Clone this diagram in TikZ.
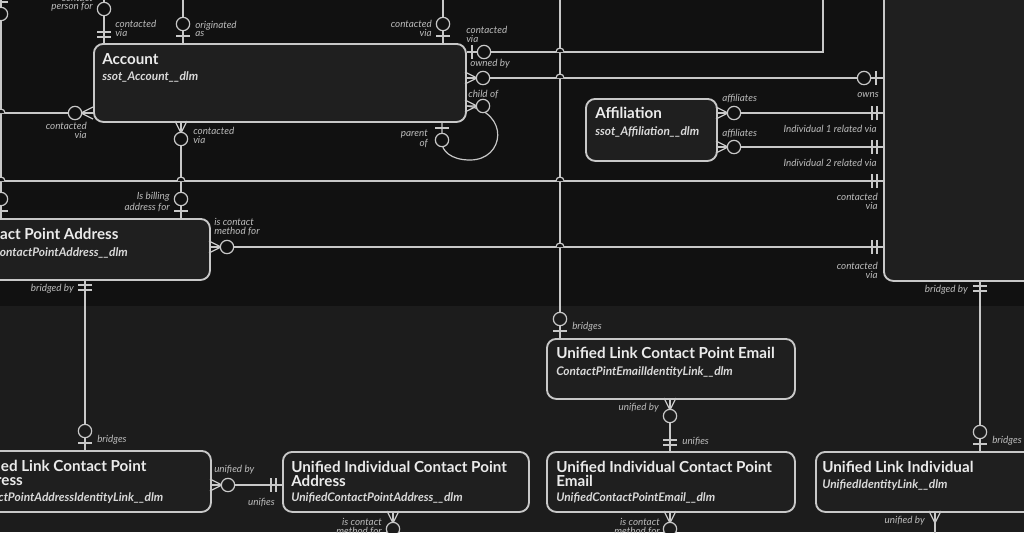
\documentclass[tikz,border=0pt]{standalone}
\usepackage{fontspec}
\setmainfont{Lato}
\definecolor{topbg}{HTML}{111111}
\definecolor{botbg}{HTML}{1C1C1C}
\definecolor{entbg}{HTML}{1F1F1F}
\definecolor{edge}{HTML}{C8C8C8}
\definecolor{lbl}{HTML}{BBBBBB}
\def\pfill{topbg}
\tikzset{
  ent/.style={draw=edge, line width=1.4pt, fill=entbg, rounded corners=7pt, anchor=north west, inner sep=0pt},
  ttl/.style={anchor=north west, text=white!92!black, font=\fontsize{11.4}{10.5}\selectfont\bfseries, align=left, inner sep=0pt},
  sub/.style={anchor=north west, text=white!85!black, font=\fontsize{8.9}{9}\selectfont\bfseries\itshape, inner sep=0pt},
  lab/.style={text=lbl, font=\fontsize{7.4}{6.6}\selectfont\itshape, inner sep=0pt, align=right},
  labl/.style={lab, align=left},
  rel/.style={draw=edge, line width=0.9pt},
  % crow's foot + circle (zero or many)
  pics/crowo/.style={code={
    \draw[rel] (0,-6)--(12,0) (0,6)--(12,0) (0,0)--(12,0);
    \draw[rel, fill=\pfill] (18,0) circle[radius=5pt];}},
  % crow's foot only
  pics/crow/.style={code={
    \draw[rel] (0,-6)--(12,0) (0,6)--(12,0) (0,0)--(12,0);}},
  % bar + circle (zero or one)
  pics/oneo/.style={code={
    \draw[rel] (7,-7)--(7,7);
    \draw[rel, fill=\pfill] (19,0) circle[radius=5pt];}},
  % two bars (exactly one)
  pics/oneone/.style={code={
    \draw[rel] (6,-7)--(6,7) (11,-7)--(11,7);}},
}
\begin{document}
\begin{tikzpicture}[x=0.75pt, y=-0.75pt]
  \useasboundingbox (0,0) rectangle (1024,532);
  \clip (0,0) rectangle (1024,532);
  \fill[topbg] (0,0) rectangle (1024,306);
  \fill[botbg] (0,306) rectangle (1024,532);

  % entities, upper part
  \node[ent, minimum width=372*0.75pt, minimum height=78*0.75pt] (acc) at (93,43) {};
  \node[ent, minimum width=359*0.75pt, minimum height=61*0.75pt] (cpa) at (-150,218) {};
  \node[ent, minimum width=131*0.75pt, minimum height=62*0.75pt] (aff) at (585,98) {};
  \node[ent, minimum width=160*0.75pt, minimum height=290*0.75pt] (ind) at (883,-10) {};

  % entities, lower part
  \node[ent, minimum width=248*0.75pt, minimum height=60*0.75pt] (ulcpe) at (546,338) {};
  \node[ent, minimum width=360*0.75pt, minimum height=61*0.75pt] (ulcpa) at (-150,450) {};
  \node[ent, minimum width=246*0.75pt, minimum height=60*0.75pt] (uicpa) at (282,451) {};
  \node[ent, minimum width=248*0.75pt, minimum height=60*0.75pt] (uicpe) at (546,451) {};
  \node[ent, minimum width=225*0.75pt, minimum height=60*0.75pt] (uli) at (815,451) {};

  % titles
  \node[ttl] (acct) at (102,53) {Account};
  \node[sub] at (102,71) {ssot\_Account\_\_dlm};
  \node[ttl] at (-33,228) {Contact Point Address};
  \node[sub] at (-33,247) {ssot\_ContactPointAddress\_\_dlm};
  \node[ttl] at (595,107) {Affiliation};
  \node[sub] at (595,126) {ssot\_Affiliation\_\_dlm};
  \node[ttl] at (556,347) {Unified Link Contact Point Email};
  \node[sub] at (556,366) {ContactPintEmailIdentityLink\_\_dlm};
  \node[ttl] at (-32,460) {Unified Link Contact Point\\Address};
  \node[sub] at (-32,492) {ContactPointAddressIdentityLink\_\_dlm};
  \node[ttl] at (291,461) {Unified Individual Contact Point\\Address};
  \node[sub] at (291,492) {UnifiedContactPointAddress\_\_dlm};
  \node[ttl] at (556,461) {Unified Individual Contact Point\\Email};
  \node[sub] at (556,492) {UnifiedContactPointEmail\_\_dlm};
  \node[ttl] at (822,461) {Unified Link Individual};
  \node[sub] at (822,479) {UnifiedIdentityLink\_\_dlm};

  % connectors, upper part
  \coordinate (l8) at (1,-5);
  \draw[rel] (l8) -- (1,218);
  \draw[rel] (0,113) -- (acc.west |- 0,113);
  \draw[rel] (0,181) -- (ind.west |- 0,181);
  \draw[rel] (104,-5) -- (acc.north -| 104,0);
  \draw[rel] (183,-5) -- (acc.north -| 183,0);
  \draw[rel] (443,-5) -- (acc.north -| 443,0);
  \draw[rel] (acc.east |- 0,52) -- (823,52) -- (823,-5);
  \draw[rel] (acc.east |- 0,78) -- (ind.west |- 0,78);
  \draw[rel] (acc.south -| 181,0) -- (cpa.north -| 181,0);
  \draw[rel] (acc.east |- 0,106) .. controls (510,112) and (505,160) .. (470,160)
             .. controls (450,160) and (442,150) .. (442,143) -- (acc.south -| 442,0);
  \draw[rel] (560,-5) -- (ulcpe.north -| 560,0);
  \draw[rel] (aff.east |- 0,113) -- (ind.west |- 0,113);
  \draw[rel] (aff.east |- 0,147) -- (ind.west |- 0,147);
  \draw[rel] (cpa.east |- 0,247) -- (ind.west |- 0,247);
  \draw[rel] (cpa.south -| 85,0) -- (ulcpa.north -| 85,0);
  \draw[rel] (ind.south -| 980,0) -- (uli.north -| 980,0);

  % connectors, lower part
  \draw[rel] (ulcpa.east |- 0,485) -- (uicpa.west |- 0,485);
  \draw[rel] (ulcpe.south -| 670,0) -- (uicpe.north -| 670,0);
  \draw[rel] (uicpa.south -| 393,0) -- (393,540);
  \draw[rel] (uicpe.south -| 670,0) -- (670,540);
  \draw[rel] (uli.south -| 935,0) -- (935,540);

  % hops
  \foreach \hx/\hy in {560/52, 560/78, 560/181, 560/247, 181/181, 1/181, 1/113}
    \draw[rel, fill=topbg] (\hx-4,\hy) arc[start angle=180, end angle=0, radius=3pt];

  % ends, upper part
  \pic at (1,-5) [rotate=-90] {oneo};
  \pic at (1,218) [rotate=90] {oneo};
  \pic at (104,43) [rotate=90] {oneone};
  \pic at (104,-10) [rotate=-90] {oneo};
  \pic at (183,43) [rotate=90] {oneo};
  \pic at (443,43) [rotate=90] {oneo};
  \pic at (465,52) {oneo};
  \pic at (465,78) {crowo};
  \pic at (465,106) {crowo};
  \pic at (442,121) [rotate=-90] {oneo};
  \pic at (93,113) [rotate=180] {crowo};
  \pic at (181,121) [rotate=-90] {crowo};
  \pic at (181,218) [rotate=90] {oneo};
  \pic at (883,78) [rotate=180] {oneo};
  \pic at (716,113) {crowo};
  \pic at (716,147) {crowo};
  \pic at (883,113) [rotate=180] {oneone};
  \pic at (883,147) [rotate=180] {oneone};
  \pic at (883,181) [rotate=180] {oneone};
  \pic at (883,247) [rotate=180] {oneone};
  \pic at (209,247) {crowo};
  \pic at (85,279) [rotate=-90] {oneone};
  \pic at (980,280) [rotate=-90] {oneone};

  % ends, lower part
  \def\pfill{botbg}
  \pic at (560,338) [rotate=90] {oneo};
  \pic at (85,450) [rotate=90] {oneo};
  \pic at (980,451) [rotate=90] {oneo};
  \pic at (210,485) {crowo};
  \pic at (282,485) [rotate=180] {oneone};
  \pic at (670,398) [rotate=-90] {crowo};
  \pic at (670,451) [rotate=90] {oneone};
  \pic at (393,511) [rotate=-90] {crowo};
  \pic at (670,511) [rotate=-90] {crowo};
  \pic at (935,511) [rotate=-90] {crow};

  % labels, upper part
  \node[lab, anchor=east] at (93,7) {person for};
  \node[lab, anchor=east] at (93,-2) {contact};
  \node[labl, anchor=west] at (115,28) {contacted\\via};
  \node[labl, anchor=west] at (195,29) {originated\\as};
  \node[lab, anchor=east] at (432,28) {contacted\\via};
  \node[labl, anchor=west] at (466,34) {contacted\\via};
  \node[labl, anchor=west] at (470,64) {owned by};
  \node[labl, anchor=west] at (468,94) {child of};
  \node[lab, anchor=east] at (428,139) {parent\\of};
  \node[lab, anchor=east] at (87,130) {contacted\\via};
  \node[labl, anchor=west] at (193,135) {contacted\\via};
  \node[lab, anchor=east] at (170,202) {Is billing\\address for};
  \node[labl, anchor=west] at (214,227) {is contact\\method for};
  \node[lab, anchor=east] at (74,289) {bridged by};
  \node[labl, anchor=west] at (722,98) {affiliates};
  \node[labl, anchor=west] at (722,133) {affiliates};
  \node[lab, anchor=east] at (879,95) {owns};
  \node[lab, anchor=east] at (877,129) {Individual 1 related via};
  \node[lab, anchor=east] at (877,163) {Individual 2 related via};
  \node[lab, anchor=east] at (878,201) {contacted\\via};
  \node[lab, anchor=east] at (878,270) {contacted\\via};
  \node[lab, anchor=east] at (968,290) {bridged by};

  % labels, lower part
  \node[labl, anchor=west] at (572,327) {bridges};
  \node[labl, anchor=west] at (97,440) {bridges};
  \node[labl, anchor=west] at (992,441) {bridges};
  \node[labl, anchor=west] at (214,470) {unified by};
  \node[lab, anchor=east] at (275,502) {unifies};
  \node[lab, anchor=east] at (659,408) {unified by};
  \node[labl, anchor=west] at (682,441) {unifies};
  \node[lab, anchor=east] at (382,527) {is contact\\method for};
  \node[lab, anchor=east] at (660,527) {is contact\\method for};
  \node[lab, anchor=east] at (925,521) {unified by};
\end{tikzpicture}
\end{document}
